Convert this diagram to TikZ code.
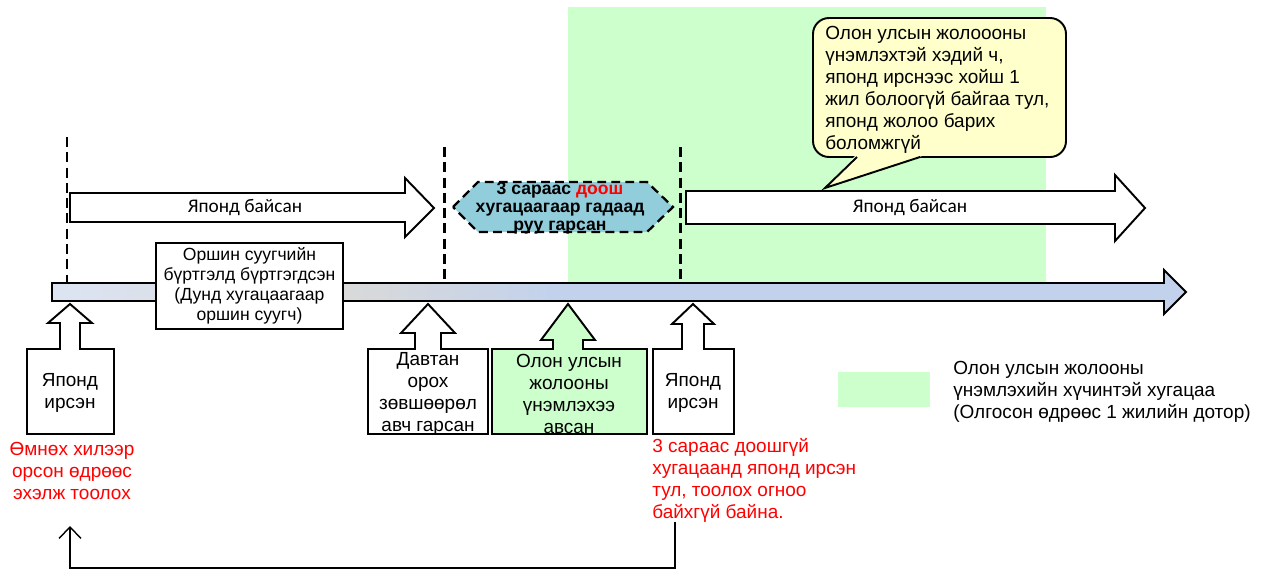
\documentclass[tikz,border=0pt]{standalone}
\usepackage{fontspec}
\setmainfont{Liberation Sans}
\newfontfamily\calfont{Carlito}
\usetikzlibrary{arrows.meta}
\definecolor{lgreen}{HTML}{CCFFCC}
\definecolor{hexblue}{HTML}{92CDDC}
\definecolor{lyellow}{HTML}{FFFFCC}
\definecolor{axl}{HTML}{DCE4F3}
\definecolor{axm}{HTML}{D9D9D9}
\definecolor{axr}{HTML}{C3D2EC}
\pgfdeclarehorizontalshading{axisshade}{100bp}{color(0bp)=(axl); color(25bp)=(axl); color(38bp)=(axm); color(47bp)=(axr); color(100bp)=(axr)}
\begin{document}
\begin{tikzpicture}[x=0.02cm,y=-0.02cm,line join=miter,
  every node/.style={font=\fontsize{10.8}{12.5}\selectfont,inner sep=0pt},
  bord/.style={draw=black,line width=1.1pt},
  vdash/.style={line width=1.7pt,dash pattern=on 5.7pt off 3pt},
  stay/.style={font=\calfont\fontsize{11}{13}\selectfont}]
\useasboundingbox (0,0) rectangle (1263,572);
\fill[lgreen] (568,7) rectangle (1046,283);
\shadedraw[bord,shading=axisshade] (52,283) -- (1164,283) -- (1164,270) -- (1186,292) -- (1164,314) -- (1164,301) -- (52,301) -- cycle;
\foreach \x/\y in {67/137,444/147,680/147}
  \draw[vdash] (\x,\y) -- (\x,283);
\filldraw[bord,fill=white] (70,193) -- (405,193) -- (405,178) -- (434,208) -- (405,237) -- (405,222) -- (70,222) -- cycle;
\node[stay] (stay1) at (245,208) {Японд байсан};
\filldraw[bord,fill=white] (686,191) -- (1115,191) -- (1115,175) -- (1145,208) -- (1115,241) -- (1115,224) -- (686,224) -- cycle;
\node[stay] (stay2) at (910,208) {Японд байсан};
\filldraw[fill=hexblue,line width=1.3pt,dash pattern=on 5pt off 3pt] (453,207) -- (478,182) -- (647,182) -- (673,207) -- (647,232) -- (478,232) -- cycle;
\node[align=center,font=\bfseries\fontsize{10}{10.2}\selectfont] (abroad) at (560,208) {3 сараас \textcolor{red}{доош}\\хугацаагаар гадаад\\руу гарсан};
\node[bord,fill=white,align=center,minimum width=3.74cm,minimum height=1.72cm,font=\fontsize{10}{11.4}\selectfont] (resident) at (249.5,286) {Оршин суугчийн\\бүртгэлд бүртгэгдсэн\\(Дунд хугацаагаар\\оршин суугч)};
\filldraw[bord,fill=lyellow,rounded corners=0.32cm] (813,18) rectangle (1066,157);
\fill[lyellow] (855,156) -- (825,188) -- (922,156) -- cycle;
\draw[bord] (857,157) -- (825,188) -- (920,157);
\node[anchor=west,align=left] (note) at (825,90) {Олон улсын жолоооны\\үнэмлэхтэй хэдий ч,\\японд ирснээс хойш 1\\жил болоогүй байгаа тул,\\японд жолоо барих\\боломжгүй};
\foreach \c/\cx/\hb/\hw/\sw/\bl/\br in {white/70/323/22/10/27/114,white/428/333/27/13/368/488,lgreen/568/340/27/15/492/647,white/693/324/21/11/653/734}
  \filldraw[bord,fill=\c] (\cx,304) -- (\cx+\hw,\hb) -- (\cx+\sw,\hb) -- (\cx+\sw,349) -- (\br,349) -- (\br,434) -- (\bl,434) -- (\bl,349) -- (\cx-\sw,349) -- (\cx-\sw,\hb) -- (\cx-\hw,\hb) -- cycle;
\node[align=center] (arrived1) at (70,393) {Японд\\ирсэн};
\node[align=center] (reentry) at (428,394) {Давтан\\орох\\зөвшөөрөл\\авч гарсан};
\node[align=center] (licence) at (569,394) {Олон улсын\\жолооны\\үнэмлэхээ\\авсан};
\node[align=center] (arrived2) at (693,393) {Японд\\ирсэн};
\node[text=red,align=center] (countfrom) at (72,471) {Өмнөх хилээр\\орсон өдрөөс\\эхэлж тоолох};
\node[text=red,align=left,anchor=west] (nocount) at (652,480) {3 сараас доошгүй\\хугацаанд японд ирсэн\\тул, тоолох огноо\\байхгүй байна.};
\fill[lgreen] (838,372) rectangle (930,407);
\node[anchor=west,align=left] (legend) at (953,392) {Олон улсын жолооны\\үнэмлэхийн хүчинтэй хугацаа\\(Олгосон өдрөөс 1 жилийн дотор)};
\path (675,522) coordinate (backfrom) (70,526) coordinate (backto);
\draw[line width=0.8pt,-{Straight Barb[length=6.5pt,width=12.5pt]}] (backfrom) -- ++(0,46) -| (backto);
\end{tikzpicture}
\end{document}
